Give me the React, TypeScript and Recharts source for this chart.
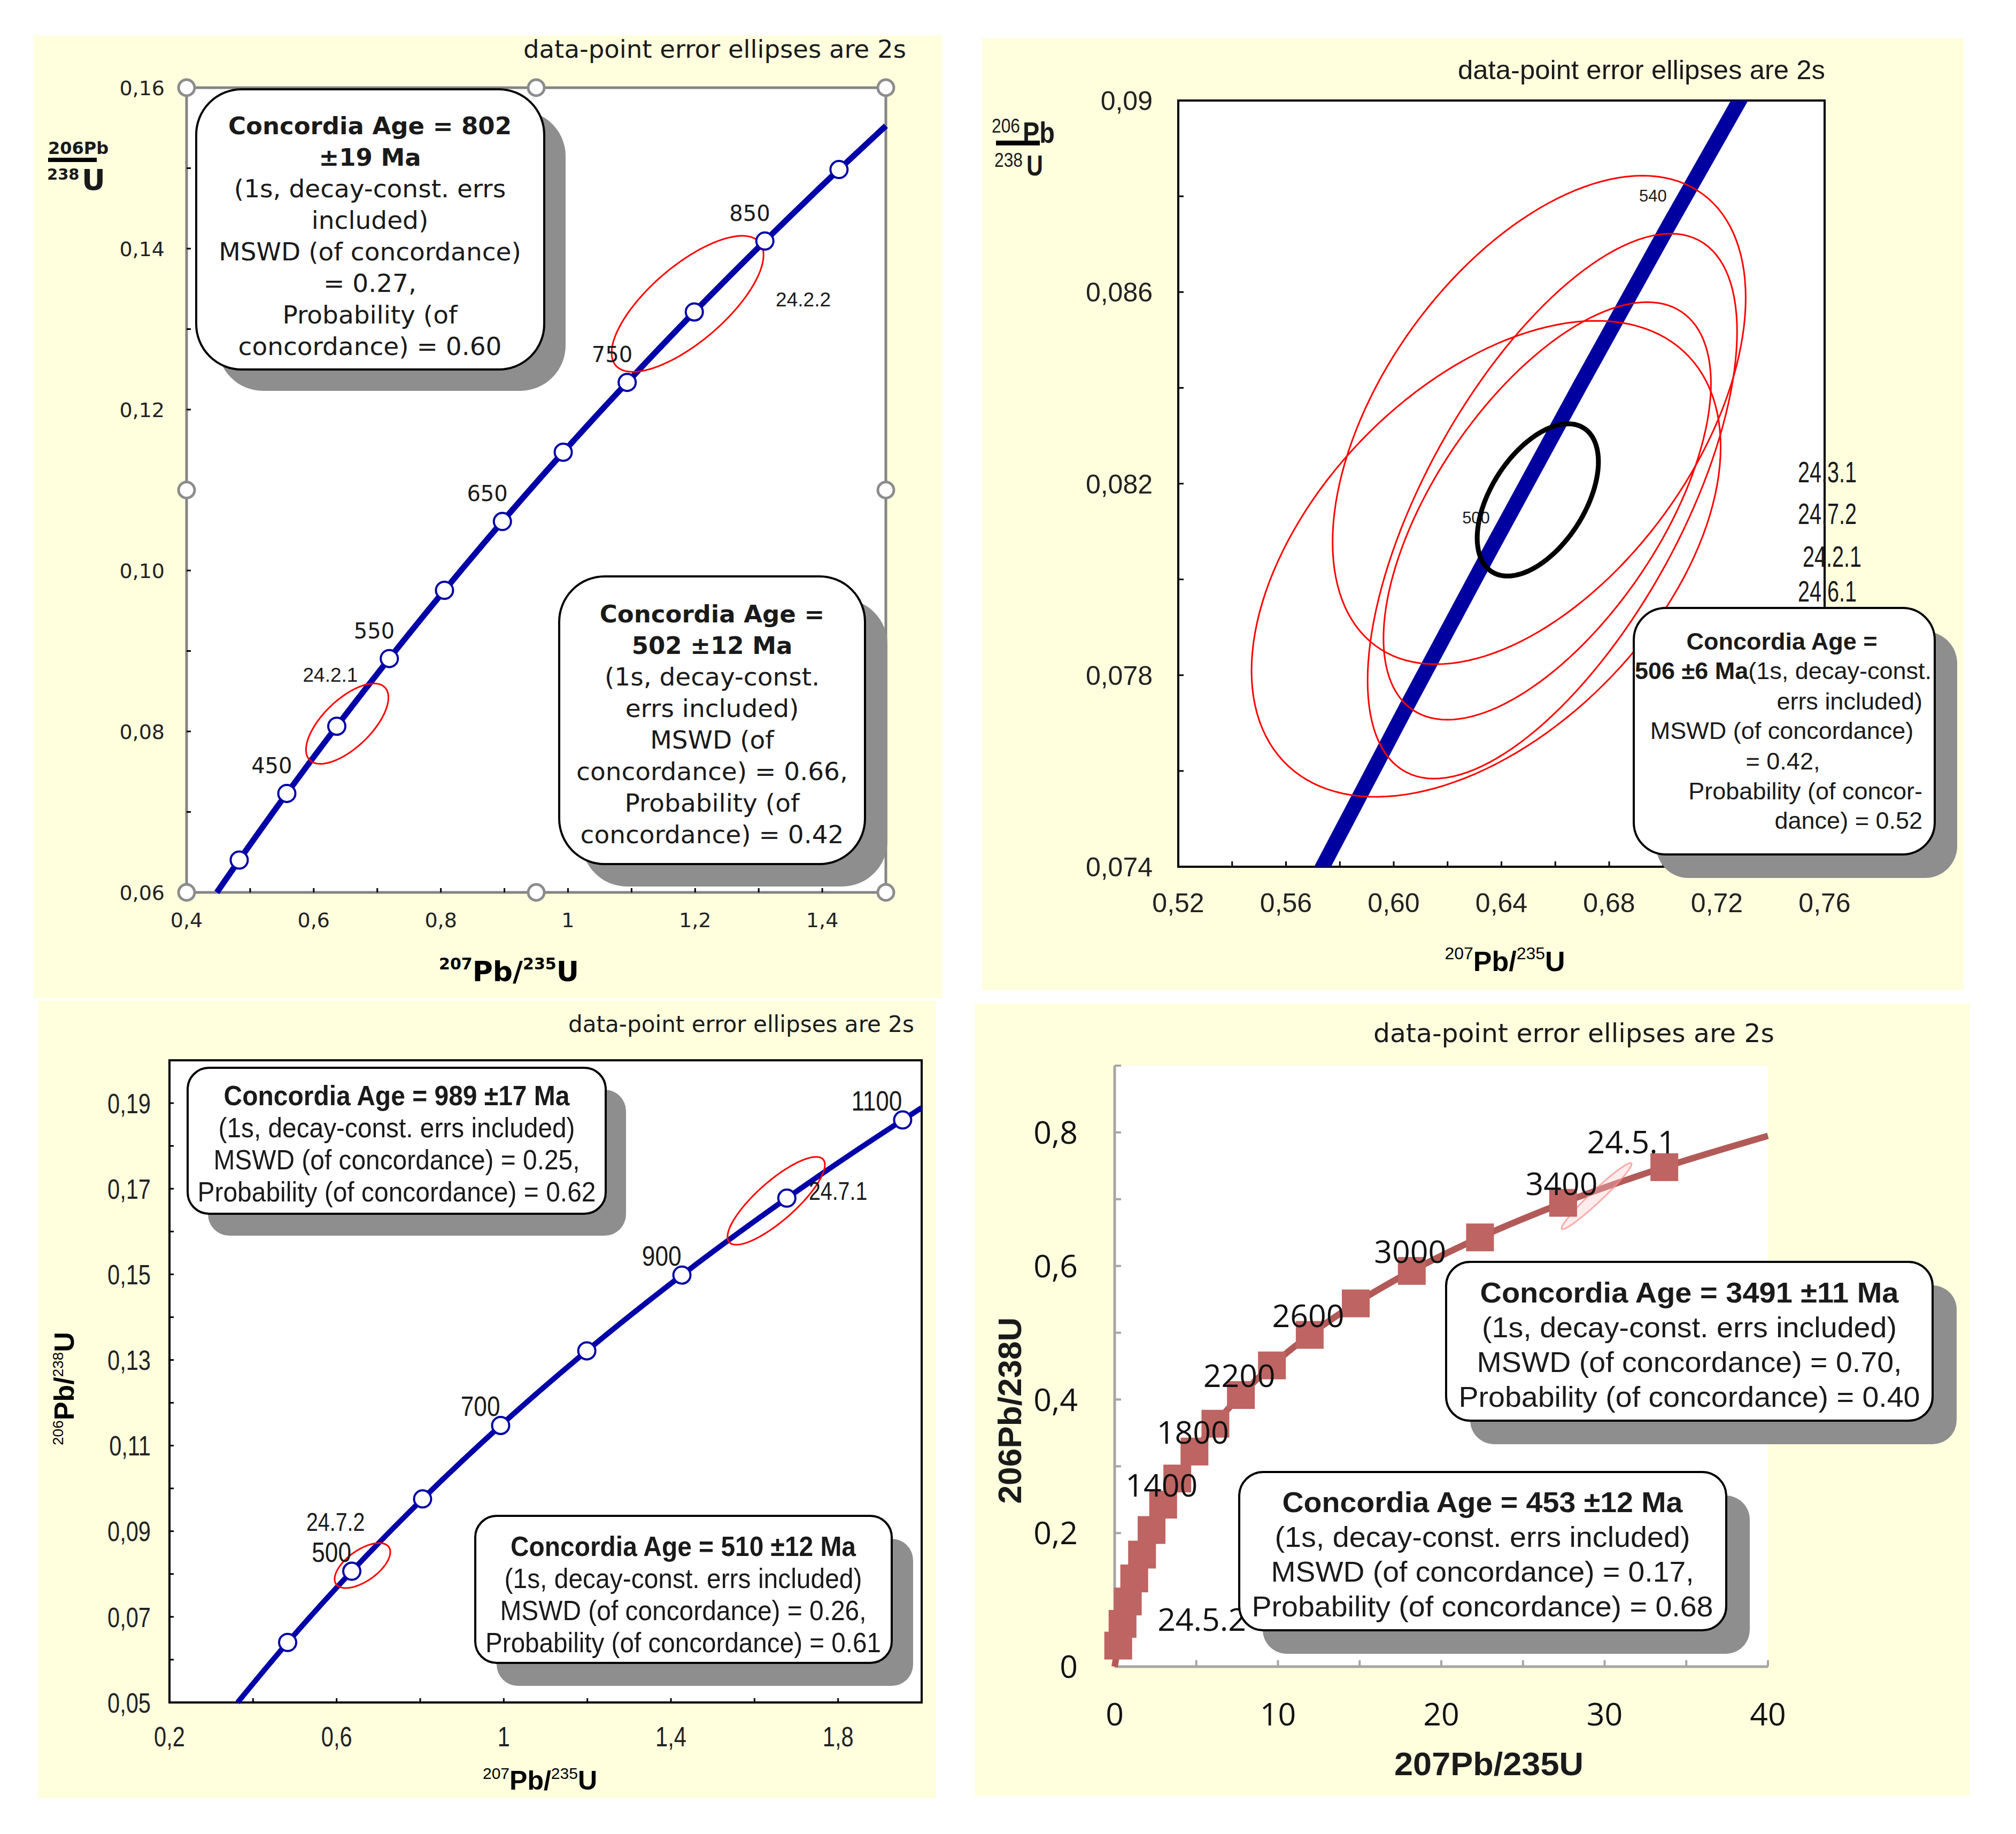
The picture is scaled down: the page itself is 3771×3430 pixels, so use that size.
import React from 'react';
import { ScatterChart, Scatter, XAxis, YAxis, CartesianGrid, ReferenceArea } from 'recharts';

const SANS = "'Liberation Sans', Arial, sans-serif";
const VERD = "'DejaVu Sans', Verdana, sans-serif";
const OPEN = "'Open Sans', 'Liberation Sans', sans-serif";
const PAPER = '#FFFFDE';
const INK = '#1a1a1a';
const BLUE = '#0000A8';
const RED = '#FF0000';

// ---------------------------------------------------------------- data
// x = 207Pb/235U, y = 206Pb/238U

// top left: concordia 400-900 Ma
const ageA = [400, 450, 500, 550, 600, 650, 700, 750, 800, 850, 900];
const pb7A = [0.4828, 0.5577, 0.6363, 0.7189, 0.8057, 0.8968, 0.9925, 1.0931, 1.1987, 1.3097, 1.4263];
const pb6A = [0.06402, 0.0723, 0.08065, 0.08906, 0.09754, 0.10609, 0.1147, 0.12338, 0.13213, 0.14094, 0.14983];
const tagA = [450, 550, 650, 750, 850];
const endsA = [{ x: 0.4476, y: 0.06 }, { x: 1.5, y: 0.15526 }];
const ellA = [
  { name: '24.2.1', x: 0.6527, y: 0.08097, ax: 0.0648, ay: 0.00499, rho: 0.65 },
  { name: '24.2.2', x: 1.1881, y: 0.13314, ax: 0.1195, ay: 0.00845, rho: 0.72 },
];
const xTickA = [0.4, 0.5, 0.6, 0.7, 0.8, 0.9, 1, 1.1, 1.2, 1.3, 1.4, 1.5];
const xLabA = ['0,4', '', '0,6', '', '0,8', '', '1', '', '1,2', '', '1,4', ''];
const yTickA = [0.06, 0.07, 0.08, 0.09, 0.1, 0.11, 0.12, 0.13, 0.14, 0.15, 0.16];
const yLabA = ['0,06', '', '0,08', '', '0,10', '', '0,12', '', '0,14', '', '0,16'];

// top right: concordia band 450-570 Ma
const ageB = [450, 480, 500, 520, 540, 570];
const pb7B = [0.5577, 0.6044, 0.6363, 0.6688, 0.702, 0.7531];
const pb6B = [0.0723, 0.0773, 0.08065, 0.08401, 0.08738, 0.09245];
const tagB = [500, 540];
const ellB = [
  { name: '24.3.1', x: 0.654, y: 0.08333, ax: 0.0767, ay: 0.0051, rho: 0.5 },
  { name: '24.7.2', x: 0.6589, y: 0.08153, ax: 0.0686, ay: 0.00569, rho: 0.64 },
  { name: '24.2.1', x: 0.657, y: 0.08143, ax: 0.0608, ay: 0.00436, rho: 0.61 },
  { name: '24.6.1', x: 0.6343, y: 0.08043, ax: 0.0871, ay: 0.00497, rho: 0.47 },
];
const ageEllB = { name: '506', x: 0.6535, y: 0.08166, ax: 0.0225, ay: 0.00159, rho: 0.5 };
const xTickB = [0.52, 0.54, 0.56, 0.58, 0.6, 0.62, 0.64, 0.66, 0.68, 0.7, 0.72, 0.74, 0.76];
const xLabB = ['0,52', '', '0,56', '', '0,60', '', '0,64', '', '0,68', '', '0,72', '', '0,76'];
const yTickB = [0.074, 0.076, 0.078, 0.08, 0.082, 0.084, 0.086, 0.088, 0.09];
const yLabB = ['0,074', '', '0,078', '', '0,082', '', '0,086', '', '0,09'];
const sideTagsB = ['24.3.1', '24.7.2', '24.2.1', '24.6.1'];

// bottom left: concordia 400-1100 Ma
const ageC = [400, 500, 600, 700, 800, 900, 1000, 1100];
const pb7C = [0.4828, 0.6363, 0.8057, 0.9925, 1.1987, 1.4263, 1.6774, 1.9545];
const pb6C = [0.06402, 0.08065, 0.09754, 0.1147, 0.13213, 0.14983, 0.1678, 0.18606];
const tagC = [500, 700, 900, 1100];
const endsC = [{ x: 0.3631, y: 0.05 }, { x: 2.0, y: 0.18892 }];
const ellC = [
  { name: '24.7.2', x: 0.6618, y: 0.08198, ax: 0.0666, ay: 0.00525, rho: 0.6 },
  { name: '24.7.1', x: 1.6519, y: 0.16718, ax: 0.1165, ay: 0.01026, rho: 0.82 },
];
const xTickC = [0.2, 0.4, 0.6, 0.8, 1, 1.2, 1.4, 1.6, 1.8, 2];
const xLabC = ['0,2', '', '0,6', '', '1', '', '1,4', '', '1,8', ''];
const yTickC = [0.05, 0.06, 0.07, 0.08, 0.09, 0.1, 0.11, 0.12, 0.13, 0.14, 0.15, 0.16, 0.17, 0.18, 0.19, 0.2];
const yLabC = ['0,05', '', '0,07', '', '0,09', '', '0,11', '', '0,13', '', '0,15', '', '0,17', '', '0,19', ''];

// bottom right: concordia 200-3600 Ma
const ageD = [200, 400, 600, 800, 1000, 1200, 1400, 1600, 1800, 2000, 2200, 2400, 2600, 2800, 3000, 3200, 3400, 3600];
const pb7D = [0.2177, 0.4828, 0.8057, 1.1987, 1.6774, 2.2603, 2.9701, 3.8344, 4.8869, 6.1685, 7.7292, 9.6296, 11.944, 14.762, 18.193, 22.371, 27.46, 33.656];
const pb6D = [0.03151, 0.06402, 0.09754, 0.13213, 0.1678, 0.2046, 0.24256, 0.28172, 0.3221, 0.36377, 0.40674, 0.45107, 0.49679, 0.54396, 0.59261, 0.6428, 0.69456, 0.74796];
const tagD = [1400, 1800, 2200, 2600, 3000, 3400];
const endsD = [{ x: 0, y: 0 }, { x: 40, y: 0.79484 }];
const ellD = [
  { name: '24.5.1', x: 29.51, y: 0.7046, ax: 2.144, ay: 0.0496, rho: 0.97 },
  { name: '24.5.2', x: 0.56, y: 0.073, ax: 0.25, ay: 0.006, rho: 0.9 },
];
const xTickD = [0, 5, 10, 15, 20, 25, 30, 35, 40];
const xLabD = ['0', '', '10', '', '20', '', '30', '', '40'];
const yTickD = [0, 0.1, 0.2, 0.3, 0.4, 0.5, 0.6, 0.7, 0.8, 0.9];
const yLabD = ['0', '', '0,2', '', '0,4', '', '0,6', '', '0,8', ''];

const noteA1 = ['Concordia Age = 802', '±19 Ma', '(1s, decay-const. errs', 'included)', 'MSWD (of concordance)', '= 0.27,', 'Probability (of', 'concordance) = 0.60'];
const noteA2 = ['Concordia Age =', '502 ±12 Ma', '(1s, decay-const.', 'errs included)', 'MSWD (of', 'concordance) = 0.66,', 'Probability (of', 'concordance) = 0.42'];
const noteC1 = ['Concordia Age = 989 ±17 Ma', '(1s, decay-const. errs included)', 'MSWD (of concordance) = 0.25,', 'Probability (of concordance) = 0.62'];
const noteC2 = ['Concordia Age = 510 ±12 Ma', '(1s, decay-const. errs included)', 'MSWD (of concordance) = 0.26,', 'Probability (of concordance) = 0.61'];
const noteD1 = ['Concordia Age = 3491 ±11 Ma', '(1s, decay-const. errs included)', 'MSWD (of concordance) = 0.70,', 'Probability (of concordance) = 0.40'];
const noteD2 = ['Concordia Age = 453 ±12 Ma', '(1s, decay-const. errs included)', 'MSWD (of concordance) = 0.17,', 'Probability (of concordance) = 0.68'];
const TITLE = 'data-point error ellipses are 2s';

// ---------------------------------------------------------------- helpers
type Pt = { x: number; y: number };
type Ell = { name: string; x: number; y: number; ax: number; ay: number; rho: number };

// outline of an error ellipse given its half extents and correlation
function outline(e: Ell): Pt[] {
  const k = Math.sqrt(1 - e.rho * e.rho);
  const pts: Pt[] = [];
  for (let i = 0; i <= 144; i++) {
    const t = (i / 144) * Math.PI * 2;
    pts.push({ x: e.x + e.ax * Math.cos(t), y: e.y + e.ay * (e.rho * Math.cos(t) + k * Math.sin(t)) });
  }
  return pts;
}

const points = (ages: number[], xs: number[], ys: number[]) => ages.map((age, i) => ({ age, x: xs[i], y: ys[i] }));
const tagged = (pts: any[], which: number[]) => pts.filter((p) => which.includes(p.age)).map((p) => ({ ...p, label: String(p.age) }));

function tickText(ticks: number[], labels: string[], font: React.CSSProperties, dy: string, sx: number) {
  return (p: any) => {
    const v = p.payload ? p.payload.value : NaN;
    const i = ticks.findIndex((t) => Math.abs(t - v) < 1e-9);
    const s = i < 0 ? '' : labels[i];
    if (!s) return <g />;
    return (
      <text transform={`translate(${p.x},${p.y}) scale(${sx},1)`} textAnchor={p.textAnchor} dy={dy} style={font}>
        {s}
      </text>
    );
  };
}

const blank = () => <g />;
const ring = (r: number, stroke: string, sw: number) => (p: any) => (
  <circle cx={p.cx} cy={p.cy} r={r} fill="#fff" stroke={stroke} strokeWidth={sw} />
);
const square = (side: number, fill: string) => (p: any) => (
  <rect x={p.cx - side / 2} y={p.cy - side / 2} width={side} height={side} fill={fill} />
);
const tag = (dx: number, dy: number, anchor: string, font: React.CSSProperties, sx = 1) => (p: any) => (
  <text transform={`translate(${p.cx + dx},${p.cy + dy}) scale(${sx},1)`} textAnchor={anchor} style={font}>
    {p.payload.label}
  </text>
);
const nameTag = (offs: Record<string, number[]>, anchor: string, font: React.CSSProperties, sx = 1) => (p: any) => {
  const o = offs[p.payload.name] || [0, 0];
  return (
    <text transform={`translate(${p.cx + o[0]},${p.cy + o[1]}) scale(${sx},1)`} textAnchor={anchor} style={font}>
      {p.payload.name}
    </text>
  );
};

const path = (key: string, data: Pt[], stroke: string, width: number, joint = 'linear', fill = 'none') => (
  <Scatter key={key} data={data} fill="none" line={{ stroke, strokeWidth: width, fill }} lineJointType={joint as any} shape={blank} isAnimationActive={false} />
);
const dots = (key: string, data: any[], shape: any) => (
  <Scatter key={key} data={data} shape={shape} isAnimationActive={false} />
);

type Frame = {
  left: number; top: number; w: number; h: number;
  margin: { top: number; right: number; bottom: number; left: number };
  xDom: [number, number]; yDom: [number, number];
  xTicks: number[]; xLabels: string[]; yTicks: number[]; yLabels: string[];
  font: React.CSSProperties; sx: number; tick: number; xGap: number; yGap: number;
  tickLine: any; axisLine: any; border?: { stroke: string; width: number }; clip?: boolean;
};

function Panel({ f, under, over }: { f: Frame; under: React.ReactNode[]; over?: React.ReactNode[] }) {
  return (
    <div style={{ position: 'absolute', left: f.left, top: f.top, width: f.w, height: f.h, background: PAPER }}>
      <ScatterChart width={f.w} height={f.h} margin={f.margin}>
        <CartesianGrid fill="#fff" stroke="none" horizontal={false} vertical={false} />
        <XAxis type="number" dataKey="x" domain={f.xDom} ticks={f.xTicks} interval={0} height={1}
          allowDataOverflow={!!f.clip} axisLine={f.axisLine} tickLine={f.tickLine} tickSize={f.tick}
          tickMargin={f.xGap} tick={tickText(f.xTicks, f.xLabels, f.font, '0.72em', f.sx)} />
        <YAxis type="number" dataKey="y" domain={f.yDom} ticks={f.yTicks} interval={0} width={1}
          allowDataOverflow={!!f.clip} axisLine={f.axisLine} tickLine={f.tickLine} tickSize={f.tick}
          tickMargin={f.yGap} tick={tickText(f.yTicks, f.yLabels, f.font, '0.36em', f.sx)} />
        {under}
        {f.border && (
          <ReferenceArea x1={f.xDom[0]} x2={f.xDom[1]} y1={f.yDom[0]} y2={f.yDom[1]} fill="none"
            stroke={f.border.stroke} strokeWidth={f.border.width} />
        )}
        {over}
      </ScatterChart>
    </div>
  );
}

function Txt({ x, y, size, family = SANS, bold = false, anchor = 'middle', len, children }: any) {
  return (
    <text x={x} y={y} fontSize={size} fontFamily={family} fontWeight={bold ? 700 : 400} textAnchor={anchor} fill={INK}
      textLength={len} lengthAdjust={len ? 'spacingAndGlyphs' : undefined}>
      {children}
    </text>
  );
}

function Note({ x, y, w, h, r, dx, dy, lines, bold, cx, base, step, size, bsize, family, widths }: any) {
  return (
    <g>
      <rect x={x + dx} y={y + dy} width={w} height={h} rx={r} fill="#8e8e8e" />
      <rect x={x} y={y} width={w} height={h} rx={r} fill="#fff" stroke="#000" strokeWidth={4} />
      {lines.map((s: string, i: number) => (
        <Txt key={i} x={cx} y={base + i * step} size={i < bold ? bsize : size} bold={i < bold} family={family}
          len={widths ? widths[i] : undefined}>
          {s}
        </Txt>
      ))}
    </g>
  );
}

// ---------------------------------------------------------------- panels
const blackTicks = { stroke: '#000', strokeWidth: 3 };

function TopLeft() {
  const f: Frame = {
    left: 63, top: 66, w: 1699, h: 1801, margin: { top: 98, right: 105, bottom: 197, left: 285 },
    xDom: [0.4, 1.5], yDom: [0.06, 0.16], xTicks: xTickA, xLabels: xLabA, yTicks: yTickA, yLabels: yLabA,
    font: { fontFamily: VERD, fontSize: 38, fill: '#222' }, sx: 1, tick: -8, xGap: 46, yGap: 49,
    tickLine: blackTicks, axisLine: false, border: { stroke: '#858585', width: 5 },
  };
  const m = points(ageA, pb7A, pb6A);
  const xs = [f.xDom[0], (f.xDom[0] + f.xDom[1]) / 2, f.xDom[1]];
  const ys = [f.yDom[0], (f.yDom[0] + f.yDom[1]) / 2, f.yDom[1]];
  const handles = xs.flatMap((x, i) => ys.filter((_, j) => !(i === 1 && j === 1)).map((y) => ({ x, y })));
  return (
    <Panel f={f}
      under={[
        path('curve', [endsA[0], ...m, endsA[1]], BLUE, 11, 'monotoneX'),
        ...ellA.map((e) => path('e' + e.name, outline(e), RED, 3)),
        dots('marks', m, ring(16, BLUE, 4)),
        dots('ages', tagged(m, tagA), tag(10, -38, 'end', { fontFamily: VERD, fontSize: 40, fill: INK })),
        dots('names', ellA, nameTag({ '24.2.1': [-83, -78], '24.2.2': [165, 5] }, 'start', { fontFamily: SANS, fontSize: 37, fill: INK })),
      ]}
      over={[dots('handles', handles, ring(15, '#8c8c8c', 5))]}
    />
  );
}

function TopRight() {
  const f: Frame = {
    left: 1837, top: 71, w: 1836, h: 1781, margin: { top: 117, right: 260, bottom: 230, left: 366 },
    xDom: [0.52, 0.76], yDom: [0.074, 0.09], xTicks: xTickB, xLabels: xLabB, yTicks: yTickB, yLabels: yLabB,
    font: { fontFamily: SANS, fontSize: 50, fill: '#222' }, sx: 1, tick: -10, xGap: 59, yGap: 58,
    tickLine: blackTicks, axisLine: false, border: { stroke: '#000', width: 4 }, clip: true,
  };
  const m = points(ageB, pb7B, pb6B);
  return (
    <Panel f={f}
      under={[
        path('band', m, '#0000A0', 28),
        ...ellB.map((e) => path('e' + e.name, outline(e), RED, 3)),
        dots('ages', tagged(m, tagB), tag(-3, -46, 'end', { fontFamily: SANS, fontSize: 31, fill: INK })),
        path('age-ellipse', outline(ageEllB), '#000', 9),
      ]}
    />
  );
}

function BottomLeft() {
  const f: Frame = {
    left: 71, top: 1872, w: 1680, h: 1491, margin: { top: 111, right: 27, bottom: 178, left: 245 },
    xDom: [0.2, 2.0], yDom: [0.05, 0.2], xTicks: xTickC, xLabels: xLabC, yTicks: yTickC, yLabels: yLabC,
    font: { fontFamily: SANS, fontSize: 52, fill: '#222' }, sx: 0.8, tick: -8, xGap: 53, yGap: 43,
    tickLine: blackTicks, axisLine: false, border: { stroke: '#000', width: 4 },
  };
  const m = points(ageC, pb7C, pb6C);
  return (
    <Panel f={f}
      under={[
        path('curve', [endsC[0], ...m, endsC[1]], BLUE, 10, 'monotoneX'),
        ...ellC.map((e) => path('e' + e.name, outline(e), RED, 3)),
        dots('marks', m, ring(16, BLUE, 4)),
        dots('ages', tagged(m, tagC), tag(-1, -18, 'end', { fontFamily: SANS, fontSize: 52, fill: INK }, 0.85)),
        dots('names', ellC, nameTag({ '24.7.2': [-105, -65], '24.7.1': [61, -2] }, 'start', { fontFamily: SANS, fontSize: 48, fill: INK }, 0.82)),
      ]}
    />
  );
}

function BottomRight() {
  const grey = '#a6a6a6';
  const f: Frame = {
    left: 1824, top: 1877, w: 1860, h: 1481, margin: { top: 116, right: 377, bottom: 240, left: 260 },
    xDom: [0, 40], yDom: [0, 0.9], xTicks: xTickD, xLabels: xLabD, yTicks: yTickD, yLabels: yLabD,
    font: { fontFamily: OPEN, fontSize: 59, fill: '#111' }, sx: 1, tick: -12, xGap: 80, yGap: 81,
    tickLine: { stroke: grey, strokeWidth: 4 }, axisLine: { stroke: grey, strokeWidth: 5 },
  };
  const m = points(ageD, pb7D, pb6D);
  return (
    <Panel f={f}
      under={[
        path('curve', [endsD[0], ...m, endsD[1]], '#B25A58', 12, 'monotoneX'),
        ...ellD.map((e) => path('e' + e.name, outline(e), 'rgba(255,140,140,0.7)', 3, 'linear', 'rgba(255,200,200,0.35)')),
        dots('marks', m, square(52, '#BE6462')),
        dots('ages', tagged(m, tagD), tag(-3, -15, 'middle', { fontFamily: OPEN, fontSize: 59, fill: '#111' })),
        dots('names', ellD, nameTag({ '24.5.1': [65, -80], '24.5.2': [146, 24] }, 'middle', { fontFamily: OPEN, fontSize: 59, fill: '#111' })),
      ]}
    />
  );
}

function Overlay() {
  const sideX = [3363, 3363, 3372, 3363];
  const sideY = [902, 980, 1060, 1125];
  return (
    <svg width={3771} height={3430} style={{ position: 'absolute', left: 0, top: 0, pointerEvents: 'none' }}>
      {/* top left */}
      <Txt x={1695} y={108} size={46} family={VERD} anchor="end" len={716}>{TITLE}</Txt>
      <Txt x={90} y={288} size={32} family={VERD} bold anchor="start">206Pb</Txt>
      <rect x={90} y={295} width={91} height={8} fill="#000" />
      <Txt x={88} y={336} size={29} family={VERD} bold anchor="start">238</Txt>
      <Txt x={153} y={355} size={54} family={VERD} bold anchor="start">U</Txt>
      <text x={952} y={1835} textAnchor="middle" fontFamily={VERD} fontWeight={700} fontSize={52} fill="#000">
        <tspan fontSize={30} dy={-22}>207</tspan><tspan dy={22}>Pb/</tspan><tspan fontSize={30} dy={-22}>235</tspan><tspan dy={22}>U</tspan>
      </text>
      <Note x={367} y={167} w={651} h={524} r={85} dx={40} dy={40} lines={noteA1} bold={2} cx={692} base={251} step={59}
        size={47} bsize={45} family={VERD} />
      <Note x={1046} y={1078} w={572} h={538} r={85} dx={42} dy={42} lines={noteA2} bold={2} cx={1332} base={1164} step={59}
        size={47} bsize={45} family={VERD} />

      {/* top right */}
      <Txt x={3414} y={148} size={50} anchor="end" len={687}>{TITLE}</Txt>
      <Txt x={1855} y={248} size={36} anchor="start" len={53}>206</Txt>
      <Txt x={1913} y={267} size={55} bold anchor="start" len={60}>Pb</Txt>
      <rect x={1863} y={263} width={82} height={9} fill="#000" />
      <Txt x={1860} y={312} size={37} anchor="start" len={53}>238</Txt>
      <Txt x={1920} y={328} size={53} bold anchor="start" len={31}>U</Txt>
      <text x={2815} y={1816} textAnchor="middle" fontFamily={SANS} fontWeight={700} fontSize={52} fill="#000">
        <tspan fontSize={32} fontWeight={400} dy={-22}>207</tspan><tspan dy={22}>Pb/</tspan>
        <tspan fontSize={32} fontWeight={400} dy={-22}>235</tspan><tspan dy={22}>U</tspan>
      </text>
      {sideTagsB.map((s, i) => (
        <Txt key={s} x={sideX[i]} y={sideY[i]} size={56} anchor="start" len={110}>{s}</Txt>
      ))}
      <rect x={3098} y={1181} width={563} height={461} rx={60} fill="#8e8e8e" />
      <rect x={3056} y={1137} width={563} height={461} rx={60} fill="#fff" stroke="#000" strokeWidth={4} />
      <Txt x={3333} y={1215} size={45} bold>Concordia Age =</Txt>
      <text x={3058} y={1270} fontFamily={SANS} fontSize={45} fill={INK}>
        <tspan fontWeight={700}>506 ±6 Ma</tspan><tspan>(1s, decay-const.</tspan>
      </text>
      <Txt x={3596} y={1327} size={45} anchor="end">errs included)</Txt>
      <Txt x={3333} y={1382} size={45}>MSWD (of concordance)</Txt>
      <Txt x={3335} y={1439} size={45}>= 0.42,</Txt>
      <Txt x={3596} y={1495} size={45} anchor="end">Probability (of concor-</Txt>
      <Txt x={3596} y={1550} size={45} anchor="end">dance) = 0.52</Txt>

      {/* bottom left */}
      <Txt x={1710} y={1930} size={42} family={VERD} anchor="end" len={647}>{TITLE}</Txt>
      <text transform="translate(138,2597) rotate(-90)" textAnchor="middle" fontFamily={SANS} fontWeight={700} fontSize={52} fill="#000">
        <tspan fontSize={28} fontWeight={400} dy={-20}>206</tspan><tspan dy={20}>Pb/</tspan>
        <tspan fontSize={28} fontWeight={400} dy={-20}>238</tspan><tspan dy={20}>U</tspan>
      </text>
      <text x={1010} y={3347} textAnchor="middle" fontFamily={SANS} fontWeight={700} fontSize={50} fill="#000">
        <tspan fontSize={30} fontWeight={400} dy={-20}>207</tspan><tspan dy={20}>Pb/</tspan>
        <tspan fontSize={30} fontWeight={400} dy={-20}>235</tspan><tspan dy={20}>U</tspan>
      </text>
      <Note x={351} y={1997} w={782} h={273} r={40} dx={38} dy={41} lines={noteC1} bold={1} cx={742} base={2067} step={60}
        size={52} bsize={52} family={SANS} widths={[647, 667, 685, 745]} />
      <Note x={889} y={2835} w={779} h={275} r={40} dx={40} dy={43} lines={noteC2} bold={1} cx={1278} base={2910} step={60}
        size={52} bsize={52} family={SANS} widths={[646, 669, 685, 740]} />

      {/* bottom right */}
      <Txt x={3319} y={1949} size={48} family={VERD} anchor="end" len={750}>{TITLE}</Txt>
      <Txt x={2785} y={3320} size={62} bold len={354}>207Pb/235U</Txt>
      <text transform="translate(1910,2638) rotate(-90)" textAnchor="middle" fontFamily={SANS} fontWeight={700} fontSize={62}
        fill={INK} textLength={349} lengthAdjust="spacingAndGlyphs">206Pb/238U</text>
      <Note x={2705} y={2360} w={910} h={297} r={45} dx={45} dy={44} lines={noteD1} bold={1} cx={3160} base={2436} step={65}
        size={54} bsize={54} family={SANS} widths={[783, 776, 795, 863]} />
      <Note x={2318} y={2753} w={911} h={296} r={45} dx={44} dy={44} lines={noteD2} bold={1} cx={2773} base={2828} step={65}
        size={54} bsize={54} family={SANS} widths={[749, 777, 791, 863]} />
    </svg>
  );
}

export default function App() {
  return (
    <div style={{ position: 'absolute', left: 0, top: 0, width: 3771, height: 3430, background: '#fff', overflow: 'hidden' }}>
      <TopLeft />
      <TopRight />
      <BottomLeft />
      <BottomRight />
      <Overlay />
    </div>
  );
}
